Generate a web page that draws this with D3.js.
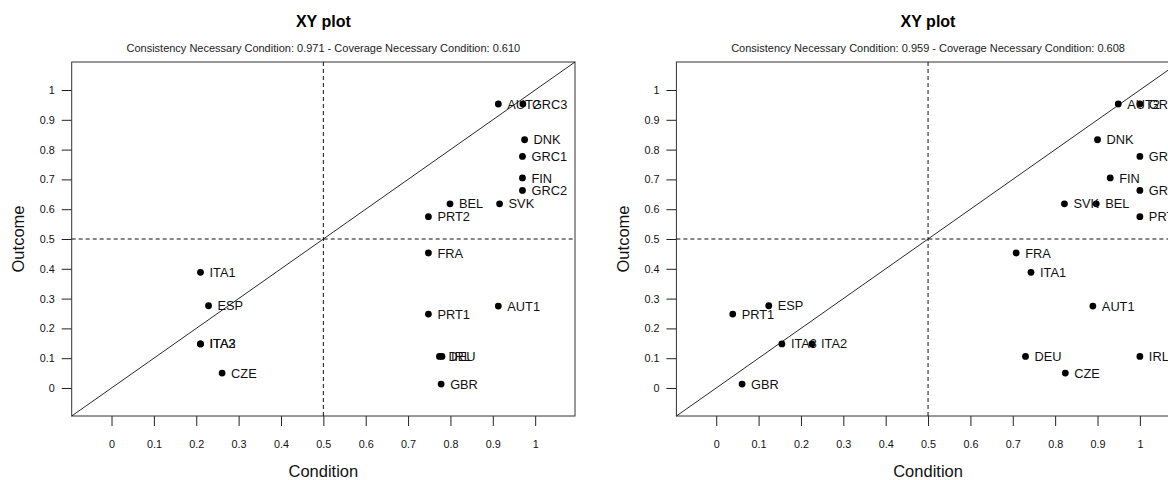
<!DOCTYPE html>
<html><head><meta charset="utf-8">
<script src="https://cdn.jsdelivr.net/npm/d3@7"></script>
<style>body{margin:0;background:#fff}svg{display:block;font-family:"Liberation Sans",Arial,sans-serif}</style>
</head><body><svg id="c" width="1168" height="480"></svg>
<script>
const cases = ["AUT1","AUT2","BEL","CZE","DEU","DNK","ESP","FIN","FRA","GBR","GRC1","GRC2","GRC3","IRL","ITA1","ITA2","ITA3","PRT1","PRT2","SVK"];
const outcome = [0.275,0.953,0.618,0.050,0.106,0.833,0.276,0.705,0.453,0.013,0.777,0.663,0.953,0.106,0.388,0.148,0.148,0.248,0.575,0.618];
const condA = [0.913,0.913,0.799,0.261,0.774,0.975,0.229,0.970,0.748,0.778,0.970,0.970,0.971,0.780,0.210,0.210,0.210,0.748,0.748,0.916];
const condB = [0.889,0.949,0.897,0.824,0.730,0.900,0.124,0.930,0.708,0.061,1.000,1.000,1.000,1.000,0.743,0.226,0.155,0.039,1.000,0.822];
const subtitles = ["Consistency Necessary Condition: 0.971 - Coverage Necessary Condition: 0.610",
                   "Consistency Necessary Condition: 0.959 - Coverage Necessary Condition: 0.608"];
const ticks = [0,0.1,0.2,0.3,0.4,0.5,0.6,0.7,0.8,0.9,1];
const tickLabels = ["0","0.1","0.2","0.3","0.4","0.5","0.6","0.7","0.8","0.9","1"];
const title = "XY plot", xTitle = "Condition", yTitle = "Outcome";

const svg = d3.select("#c");
const panels = [condA, condB];
const W = 604.7;
panels.forEach((cond, p) => {
  const ox = p * W;
  const g = svg.append("g").attr("transform", `translate(${ox},0)`);
  const x = d3.scaleLinear().domain([-0.094, 1.094]).range([71.7, 575]);
  const y = d3.scaleLinear().domain([-0.094, 1.094]).range([416, 62]);
  const cx = (x.range()[0] + x.range()[1]) / 2;
  g.append("text").attr("x", cx).attr("y", 27).attr("text-anchor","middle")
    .attr("font-size", 16).attr("font-weight","bold").text(title);
  g.append("text").attr("x", cx).attr("y", 52).attr("text-anchor","middle")
    .attr("font-size", 11).attr("fill","#222").text(subtitles[p]);
  // axes
  const xa = g.append("g").attr("transform","translate(0,416)")
    .call(d3.axisBottom(x).tickValues(ticks).tickFormat((d,i)=>tickLabels[i]).tickSize(10).tickPadding(14));
  const ya = g.append("g").attr("transform","translate(71.7,0)")
    .call(d3.axisLeft(y).tickValues(ticks).tickFormat((d,i)=>tickLabels[i]).tickSize(10).tickPadding(7));
  [xa, ya].forEach(a => {
    a.select(".domain").remove();
    a.selectAll("line").attr("stroke","#222");
    a.selectAll("text").attr("font-size", 10.8).attr("fill","#111").attr("font-family","Liberation Sans, Arial, sans-serif");
  });
  // box
  g.append("rect").attr("x", x.range()[0]).attr("y", 62).attr("width", x.range()[1]-x.range()[0]).attr("height", 416-62)
    .attr("fill","none").attr("stroke","#333").attr("stroke-width",1);
  // diagonal
  g.append("line").attr("x1", x(-0.094)).attr("y1", y(-0.094)).attr("x2", x(1.094)).attr("y2", y(1.094))
    .attr("stroke","#111").attr("stroke-width",0.9);
  // dashed reference
  g.append("line").attr("x1", x(0.5)).attr("x2", x(0.5)).attr("y1", 62).attr("y2", 416)
    .attr("stroke","#111").attr("stroke-dasharray","4,3");
  g.append("line").attr("x1", x.range()[0]).attr("x2", x.range()[1]).attr("y1", y(0.5)).attr("y2", y(0.5))
    .attr("stroke","#111").attr("stroke-dasharray","4,3");
  // points
  const data = cases.map((c,i)=>({c, xv: cond[i], yv: outcome[i]}));
  g.selectAll("circle.pt").data(data).enter().append("circle").attr("class","pt")
    .attr("cx", d=>x(d.xv)).attr("cy", d=>y(d.yv)).attr("r", 3.4).attr("fill","#000");
  g.selectAll("text.lb").data(data).enter().append("text").attr("class","lb")
    .attr("x", d=>x(d.xv)+9).attr("y", d=>y(d.yv)+4.6).attr("font-size", 12.8).attr("fill","#111").text(d=>d.c);
  // axis titles
  g.append("text").attr("x", cx).attr("y", 477).attr("text-anchor","middle").attr("font-size", 16.5).attr("fill","#111").text(xTitle);
  g.append("text").attr("transform", `translate(24,${(62+416)/2}) rotate(-90)`).attr("text-anchor","middle")
    .attr("font-size", 16.5).attr("fill","#111").text(yTitle);
});
</script></body></html>
